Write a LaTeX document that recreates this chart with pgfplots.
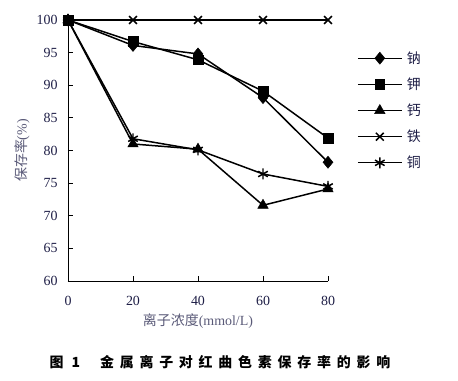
\documentclass[border=0pt]{standalone}
\usepackage{fontspec}
\setmainfont{Liberation Serif}
\newfontfamily\cjk{Noto Sans CJK SC}
\usepackage{pgfplots}
\pgfplotsset{compat=1.18}
\definecolor{tickc}{RGB}{30,30,70}
\definecolor{labc}{RGB}{90,90,120}
\newcommand\s{\hspace{5.8bp}}
\begin{document}
\begin{tikzpicture}
\useasboundingbox (-68bp,-100bp) rectangle (390bp,281bp);
\begin{axis}[
  at={(0,0)}, anchor=south west,
  scale only axis, width=260bp, height=261bp,
  xmin=0, xmax=80, ymin=60, ymax=100,
  axis lines=left, axis line style={-, line width=1pt},
  xtick={0,20,40,60,80}, ytick={60,65,...,100},
  tick align=inside, major tick length=5bp,
  y tick style={line width=0.8pt, black}, x tick style={line width=0.8pt, black},
  /pgf/number format/assume math mode=true,
  tick label style={font=\fontsize{14}{16}\selectfont, text=tickc},
  yticklabel style={xshift=-7bp},
  xticklabel style={yshift=-12bp},
  xlabel={\cjk 离子浓度\rmfamily(mmol/L)},
  ylabel={\cjk 保存率\rmfamily(\%)},
  xlabel style={font=\fontsize{14}{16}\selectfont, text=labc, yshift=-1bp},
  ylabel style={font=\fontsize{14}{16}\selectfont, text=labc, yshift=0bp},
  clip=false,
  legend style={at={(1.1,0.895)}, anchor=north west, draw=none, fill=none,
    font=\cjk\fontsize{14}{16}\selectfont, text=tickc, row sep=9bp,
    nodes={inner xsep=4.5bp}},
  legend cell align=left,
  legend image code/.code={\draw[#1, line width=1.3pt, mark repeat=2, mark phase=2] plot coordinates {(0bp,0bp) (22bp,0bp) (44bp,0bp)};},
]
\addplot[black, line width=1.5pt, mark=diamond*, mark size=6bp, mark options={solid, fill=black, line width=0.5pt, xscale=1.1}] coordinates {(0,100) (20,96.1) (40,94.8) (60,88.1) (80,78.2)};
\addlegendentry{钠}
\addplot[black, line width=1.5pt, mark=square*, mark size=4.8bp, mark options={solid, fill=black, line width=0.5pt}] coordinates {(0,100) (20,96.7) (40,93.9) (60,89.1) (80,81.9)};
\addlegendentry{钾}
\addplot[black, line width=1.5pt, mark=triangle*, mark size=6bp, mark options={solid, fill=black, line width=0.5pt}] coordinates {(0,100) (20,81.0) (40,80.2) (60,71.6) (80,74.1)};
\addlegendentry{钙}
\addplot[black, line width=1.5pt, mark=x, mark size=5.5bp, mark options={solid, line width=1.5pt}] coordinates {(0,100) (20,100) (40,100) (60,100) (80,100)};
\addlegendentry{铁}
\addplot[black, line width=1.5pt, mark=asterisk, mark size=5.5bp, mark options={solid, line width=1.5pt}] coordinates {(0,100) (20,81.8) (40,80.1) (60,76.4) (80,74.5)};
\addlegendentry{铜}
\end{axis}
\node[font=\cjk\bfseries\fontsize{14}{16}\selectfont, anchor=center] at (152bp,-81bp) {图\hspace{8bp}1\hspace{20bp}金\s 属\s 离\s 子\s 对\s 红\s 曲\s 色\s 素\s 保\s 存\s 率\s 的\s 影\s 响};
\end{tikzpicture}
\end{document}
